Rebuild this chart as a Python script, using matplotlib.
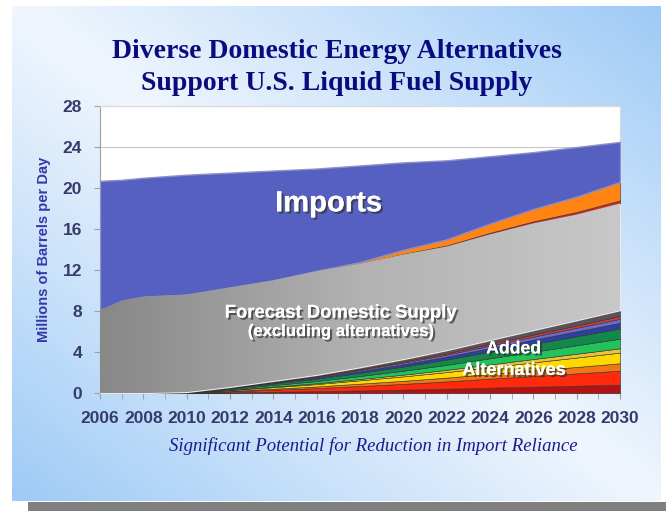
import numpy as np
import matplotlib
matplotlib.use("Agg")
import matplotlib.pyplot as plt
import matplotlib.patheffects as pe
from matplotlib.colors import LinearSegmentedColormap
from matplotlib.patches import Rectangle

# Years on the forecast grid
years = [2006, 2007, 2008, 2010, 2012, 2014, 2016, 2018, 2020, 2022, 2024, 2026, 2028, 2030]

# Added alternatives, bottom to top (million barrels per day)
alt1 = [0, 0, 0, 0.01, 0.06, 0.12, 0.18, 0.25, 0.33, 0.42, 0.52, 0.61, 0.71, 0.81]
alt2 = [0, 0, 0, 0.02, 0.10, 0.20, 0.30, 0.43, 0.56, 0.71, 0.88, 1.04, 1.20, 1.37]
alt3 = [0, 0, 0, 0.01, 0.05, 0.10, 0.16, 0.23, 0.30, 0.37, 0.46, 0.55, 0.63, 0.72]
alt4 = [0, 0, 0, 0.02, 0.08, 0.15, 0.23, 0.33, 0.43, 0.54, 0.66, 0.79, 0.92, 1.04]
alt5 = [0, 0, 0, 0.00, 0.03, 0.06, 0.09, 0.13, 0.17, 0.22, 0.27, 0.32, 0.37, 0.42]
alt6 = [0, 0, 0, 0.02, 0.08, 0.15, 0.21, 0.29, 0.38, 0.49, 0.60, 0.71, 0.83, 0.94]
alt7 = [0, 0, 0, 0.01, 0.07, 0.14, 0.22, 0.31, 0.41, 0.52, 0.64, 0.76, 0.88, 1.00]
alt8 = [0, 0, 0, 0.00, 0.04, 0.08, 0.12, 0.17, 0.23, 0.28, 0.35, 0.42, 0.48, 0.55]
alt9 = [0, 0, 0, 0.00, 0.03, 0.06, 0.08, 0.12, 0.16, 0.20, 0.25, 0.30, 0.34, 0.39]
alt10 = [0, 0, 0, 0.00, 0.02, 0.04, 0.06, 0.08, 0.11, 0.13, 0.17, 0.20, 0.23, 0.26]
alt11 = [0, 0, 0, 0.01, 0.04, 0.09, 0.13, 0.18, 0.24, 0.31, 0.38, 0.45, 0.52, 0.59]

# Forecast domestic supply (excluding alternatives)
domestic = [8.1, 9.0, 9.4, 9.5, 9.7, 9.8, 10.1, 10.1, 10.2, 10.1, 10.3, 10.4, 10.3, 10.4]
# Thin bands above domestic supply
band_red = [0, 0, 0, 0, 0, 0, 0, 0, 0.05, 0.10, 0.15, 0.20, 0.25, 0.30]
band_orange = [0, 0, 0, 0, 0, 0, 0.05, 0.15, 0.40, 0.60, 0.90, 1.20, 1.50, 1.80]
# Total liquid fuel supply (top of imports)
total_supply = [20.7, 20.8, 21.0, 21.3, 21.5, 21.7, 21.9, 22.2, 22.5, 22.7, 23.1, 23.5, 24.0, 24.5]

alt_colors = ["#b31212", "#ff2a0e", "#f27614", "#ffd800", "#e9c43a", "#22c45a",
              "#14874a", "#2f3f9e", "#6a6ad0", "#d83a3a", "#5e5058"]

fig = plt.figure(figsize=(6.66, 5.11), dpi=100)
fig.patch.set_facecolor("white")

# slide background with diagonal gradient
bg = fig.add_axes([12 / 666, 10 / 511, 648 / 666, 495 / 511], zorder=-10)
u, v = np.meshgrid(np.linspace(0, 1, 300), np.linspace(0, 1, 300))
grad = np.abs(u - v)
bg_cmap = LinearSegmentedColormap.from_list("bg", ["#f0f6fd", "#c8e1fa", "#9ecaf6"])
bg.imshow(grad, cmap=bg_cmap, aspect="auto", extent=[0, 1, 0, 1], origin="upper")
bg.axis("off")
fig.patches.append(Rectangle((28 / 666, 0), 1, 9 / 511, transform=fig.transFigure,
                             facecolor="#7f7f7f", edgecolor="none", zorder=-11))

ax = fig.add_axes([100 / 666, 118 / 511, 520 / 666, 287 / 511])
ax.set_facecolor("white")

alts = [alt1, alt2, alt3, alt4, alt5, alt6, alt7, alt8, alt9, alt10, alt11]
imports = (np.array(total_supply) - np.sum(alts, axis=0) - np.array(domestic)
           - np.array(band_red) - np.array(band_orange))

layers = alts + [domestic, band_red, band_orange, imports]
colors = alt_colors + ["#a8a8a8", "#cc2a2a", "#ff8412", "#5560c0"]
polys = ax.stackplot(years, layers, colors=colors, edgecolor="#303030", linewidth=0.4, zorder=3)

# gray gradient for domestic supply
dom_poly = polys[len(alts)]
dom_poly.set_edgecolor("#e8e8e8")
dom_poly.set_linewidth(1.0)
gray_cmap = LinearSegmentedColormap.from_list("gr", ["#888888", "#b2b2b2", "#c8c8c8"])
img = ax.imshow(np.linspace(0, 1, 200).reshape(1, -1), cmap=gray_cmap, aspect="auto",
                extent=[2006, 2030, 0, 28], zorder=3.5)
img.set_clip_path(dom_poly.get_paths()[0], transform=ax.transData)
polys[-1].set_edgecolor("#9090c8")
polys[-1].set_linewidth(1.0)

ax.set_xlim(2006, 2030)
ax.set_ylim(0, 28)
ax.set_yticks(range(0, 29, 4))
ax.set_xticks(range(2006, 2031, 2))
ax.set_xticks(range(2006, 2031, 1), minor=True)
ax.grid(axis="y", color="#c8c8c8", linewidth=0.8, zorder=1)
ax.set_axisbelow(True)
for side in ["top", "right"]:
    ax.spines[side].set_color("#d8d8d8")
for side in ["left", "bottom"]:
    ax.spines[side].set_color("#a0a0a0")
ax.tick_params(axis="both", which="both", colors="#a0a0a0", length=4, direction="out")
ax.tick_params(axis="x", which="major", pad=9)
ax.tick_params(axis="y", which="major", pad=9)
for lab in ax.get_xticklabels() + ax.get_yticklabels():
    lab.set_fontfamily("Liberation Sans")
    lab.set_fontweight("bold")
    lab.set_fontsize(12.5)
    lab.set_color("#363b6c")
ax.set_ylabel("Millions of Barrels per Day", fontfamily="Liberation Sans", fontweight="bold",
              fontsize=10.5, color="#3838a8", labelpad=8)

shadow = [pe.withSimplePatchShadow(offset=(1.5, -1.5), shadow_rgbFace="#303030", alpha=0.7), pe.Normal()]
ax.text(2016.55, 18.5, "Imports", color="white", fontsize=21, fontweight="bold",
        fontfamily="Liberation Sans", ha="center", va="center", path_effects=shadow, zorder=6)
ax.text(2017.1, 7.8, "Forecast Domestic Supply", color="white", fontsize=13.3, fontweight="bold",
        fontfamily="Liberation Sans", ha="center", va="center", path_effects=shadow, zorder=6)
ax.text(2017.1, 6.0, "(excluding alternatives)", color="white", fontsize=12, fontweight="bold",
        fontfamily="Liberation Sans", ha="center", va="center", path_effects=shadow, zorder=6)
ax.text(2025.1, 4.3, "Added", color="white", fontsize=12.7, fontweight="bold",
        fontfamily="Liberation Sans", ha="center", va="center", path_effects=shadow, zorder=6)
ax.text(2025.1, 2.2, "Alternatives", color="white", fontsize=13, fontweight="bold",
        fontfamily="Liberation Sans", ha="center", va="center", path_effects=shadow, zorder=6)

fig.text(337 / 666, 1 - 52 / 511, "Diverse Domestic Energy Alternatives", ha="center", va="center",
         fontfamily="Liberation Serif", fontweight="bold", fontsize=20, color="#0b0b80")
fig.text(337 / 666, 1 - 84 / 511, "Support U.S. Liquid Fuel Supply", ha="center", va="center",
         fontfamily="Liberation Serif", fontweight="bold", fontsize=20, color="#0b0b80")
fig.text(373 / 666, 1 - 446 / 511, "Significant Potential for Reduction in Import Reliance",
         ha="center", va="center", fontfamily="Liberation Serif", style="italic",
         fontsize=13.5, color="#1a1a90")

fig.savefig("out.png", dpi=100)
